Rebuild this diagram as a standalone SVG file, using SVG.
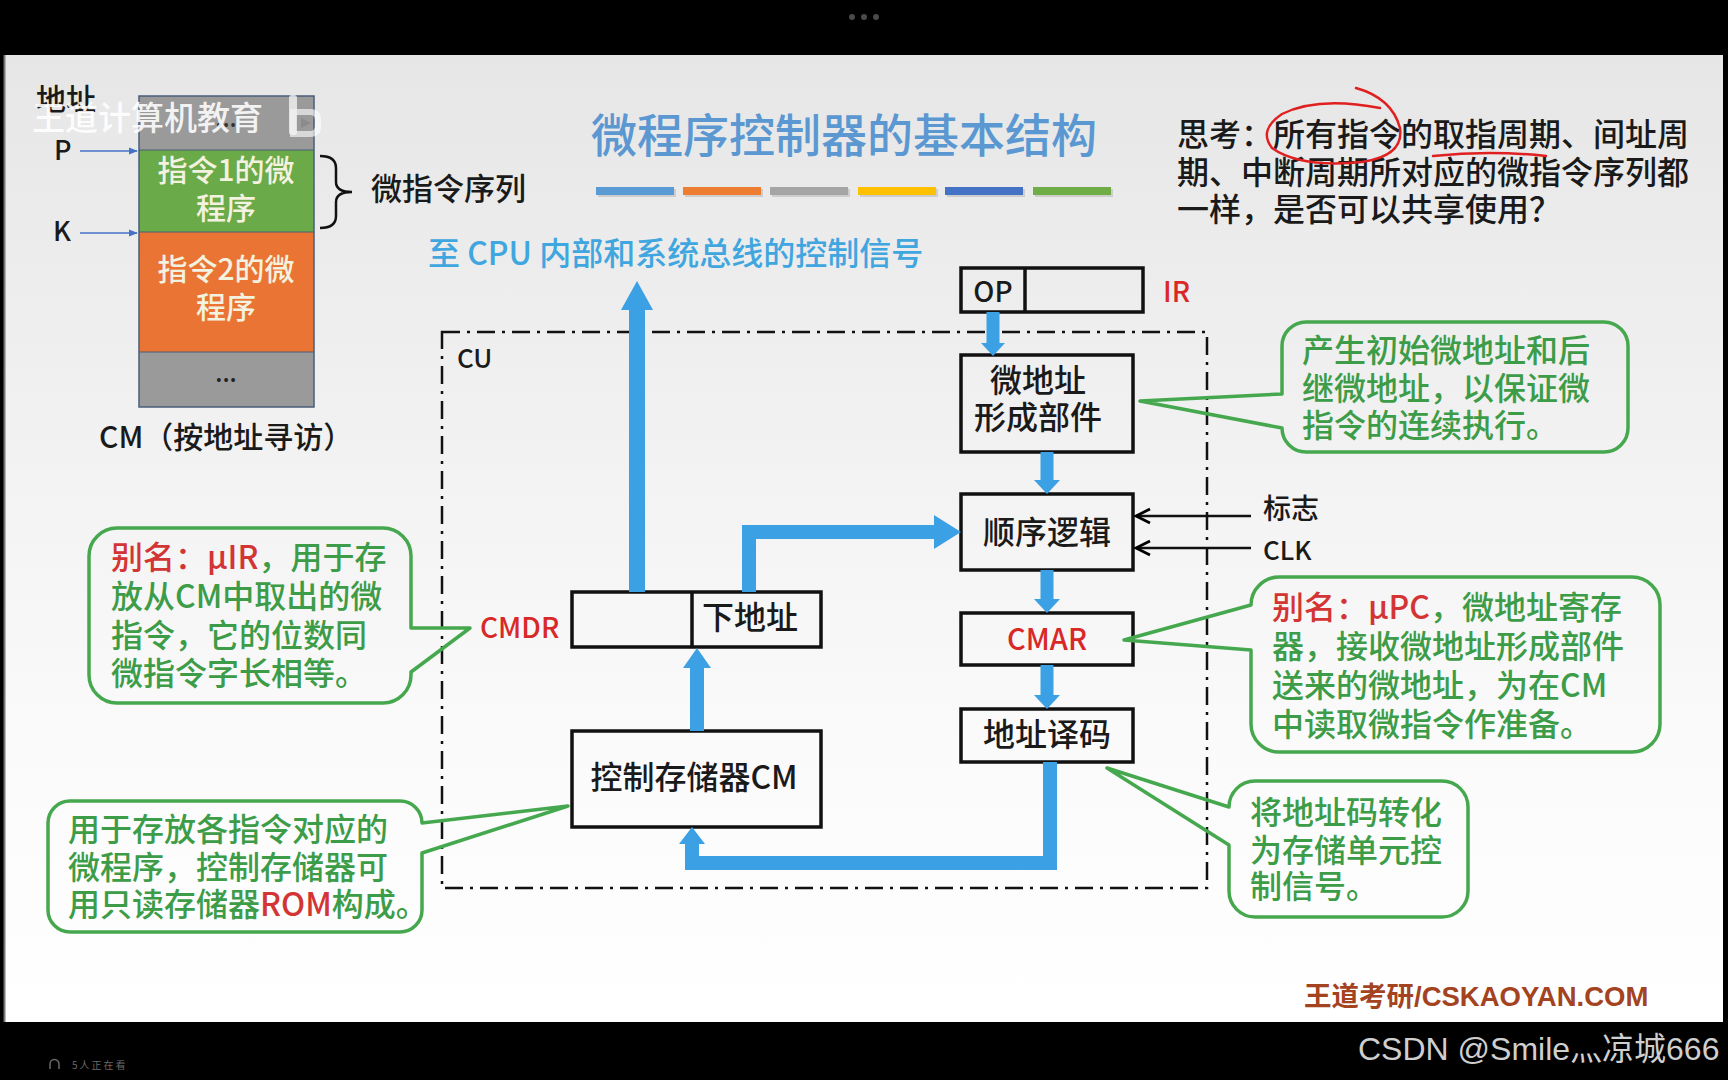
<svg xmlns="http://www.w3.org/2000/svg" width="1728" height="1080" viewBox="0 0 1728 1080">
<defs>
  <linearGradient id="bg" x1="0" y1="0" x2="0" y2="1">
    <stop offset="0" stop-color="#e6e6e6"/>
    <stop offset="0.45" stop-color="#f3f3f3"/>
    <stop offset="0.7" stop-color="#fafafa"/>
    <stop offset="1" stop-color="#ffffff"/>
  </linearGradient>
  <marker id="blk" viewBox="0 0 10 10" refX="9" refY="5" markerWidth="7" markerHeight="7" orient="auto">
    <path d="M1,1 L9,5 L1,9" fill="none" stroke="#000" stroke-width="1.6"/>
  </marker>
  <marker id="thinblue" viewBox="0 0 10 10" refX="9" refY="5" markerWidth="6" markerHeight="6" orient="auto">
    <path d="M0,1 L10,5 L0,9 Z" fill="#4472c4"/>
  </marker>
</defs>
<style>
  .cjk { font-family: "Noto Sans CJK SC", "Noto Sans", sans-serif; font-weight: 500; }
  .box { fill: none; stroke: #111; stroke-width: 3.5; }
  .lbl { font-size: 32px; fill: #1a1a1a; }
  .red { fill: #d92828; }
  .callout { fill: none; stroke: #45a84e; stroke-width: 3.5; stroke-linejoin: round; }
  .ctext { font-size: 32px; fill: #3d9c47; }
  .cred { fill: #d33434; }
  .blue { fill: #3ca0e4; }
  .bline { fill: none; stroke: #3ca0e4; stroke-width: 14; stroke-linejoin: miter; }
  .memtxt { font-size: 30px; fill: #f3f1df; }
</style>

<!-- frame -->
<rect x="0" y="0" width="1728" height="1080" fill="#000"/>
<rect x="4" y="55" width="1719" height="967" fill="url(#bg)"/>
<line x1="4.5" y1="55" x2="4.5" y2="1022" stroke="#777" stroke-width="2"/>
<g id="top-dots" fill="#4a4a4a">
  <circle cx="852" cy="17" r="3"/><circle cx="864" cy="17" r="3"/><circle cx="876" cy="17" r="3"/>
</g>

<!-- title -->
<g id="title">
  <text class="cjk" x="591" y="152" font-size="46" font-weight="400" fill="#5b98d2">微程序控制器的基本结构</text>
  <g id="color-bars">
    <rect x="598" y="189" width="78" height="8" fill="#000" opacity="0.12"/>
    <rect x="596" y="187" width="78" height="8" fill="#5b9bd5"/>
    <rect x="685" y="189" width="78" height="8" fill="#000" opacity="0.12"/>
    <rect x="683" y="187" width="78" height="8" fill="#ed7d31"/>
    <rect x="772" y="189" width="78" height="8" fill="#000" opacity="0.12"/>
    <rect x="770" y="187" width="78" height="8" fill="#a5a5a5"/>
    <rect x="860" y="189" width="78" height="8" fill="#000" opacity="0.12"/>
    <rect x="858" y="187" width="78" height="8" fill="#ffc000"/>
    <rect x="947" y="189" width="78" height="8" fill="#000" opacity="0.12"/>
    <rect x="945" y="187" width="78" height="8" fill="#4472c4"/>
    <rect x="1035" y="189" width="78" height="8" fill="#000" opacity="0.12"/>
    <rect x="1033" y="187" width="78" height="8" fill="#70ad47"/>
  </g>
</g>

<!-- question -->
<g id="question" class="cjk" font-size="32" fill="#1a1a1a">
  <text x="1177" y="146">思考：所有指令的取指周期、间址周</text>
  <text x="1177" y="184">期、中断周期所对应的微指令序列都</text>
  <text x="1177" y="221">一样，是否可以共享使用？</text>
  <path d="M1356,88 Q1392,98 1400,128 Q1404,156 1362,162 Q1300,168 1272,148 Q1258,130 1282,114 Q1318,96 1380,108" fill="none" stroke="#e02020" stroke-width="2.5" stroke-linecap="round"/>
  <path d="M1433,156 Q1490,150 1546,156" fill="none" stroke="#e02020" stroke-width="2.5" stroke-linecap="round"/>
</g>

<!-- CM memory diagram -->
<g id="cm-memory">
  <rect x="139" y="96" width="175" height="54" fill="#9a9a9a"/>
  <rect x="139" y="150" width="175" height="82" fill="#6aaa48"/>
  <rect x="139" y="232" width="175" height="120" fill="#ea7433"/>
  <rect x="139" y="352" width="175" height="55" fill="#9a9a9a"/>
  <rect x="139" y="96" width="175" height="311" fill="none" stroke="#4a5d78" stroke-width="1.5"/>
  <line x1="139" y1="150" x2="314" y2="150" stroke="#4a5d78" stroke-width="1.2"/>
  <line x1="139" y1="232" x2="314" y2="232" stroke="#4a5d78" stroke-width="1.2"/>
  <line x1="139" y1="352" x2="314" y2="352" stroke="#4a5d78" stroke-width="1.2"/>
  <text class="cjk" x="226" y="127" font-size="24" fill="#333" text-anchor="middle">...</text>
  <text class="cjk memtxt" x="226" y="181" text-anchor="middle">指令1的微</text>
  <text class="cjk memtxt" x="226" y="219" text-anchor="middle">程序</text>
  <text class="cjk memtxt" x="226" y="280" text-anchor="middle">指令2的微</text>
  <text class="cjk memtxt" x="226" y="318" text-anchor="middle">程序</text>
  <text class="cjk" x="226" y="382" font-size="24" fill="#222" text-anchor="middle">...</text>
  <text class="cjk" x="36" y="110" font-size="30" fill="#1a1a1a">地址</text>
  <text class="cjk" x="54" y="160" font-size="27" fill="#1a1a1a">P</text>
  <text class="cjk" x="53" y="241" font-size="27" fill="#1a1a1a">K</text>
  <line x1="80" y1="151" x2="137" y2="151" stroke="#4472c4" stroke-width="1.5" marker-end="url(#thinblue)"/>
  <line x1="80" y1="233" x2="137" y2="233" stroke="#4472c4" stroke-width="1.5" marker-end="url(#thinblue)"/>
  <path d="M320,156 Q336,156 336,168 V182 Q336,192 352,192 Q336,192 336,202 V216 Q336,228 320,228" fill="none" stroke="#111" stroke-width="2.5"/>
  <text class="cjk" x="371" y="200" font-size="31" fill="#1a1a1a">微指令序列</text>
  <text class="cjk" x="99" y="448" font-size="30" fill="#1a1a1a">CM（按地址寻访）</text>
</g>

<!-- watermark -->
<g id="watermark" opacity="0.88">
  <text class="cjk" x="32" y="130" font-size="33" fill="#ffffff">王道计算机教育</text>
  <rect x="289" y="95" width="8" height="40" rx="3" fill="#ffffff" opacity="0.8"/>
  <path d="M293,112 H310 Q318,112 318,120 V126 Q318,134 310,134 H293 Z" fill="none" stroke="#ffffff" stroke-width="6" opacity="0.7"/>
  <path d="M301,118 L311,123 L301,128 Z" fill="#8a8a8a"/>
</g>

<!-- signal label -->
<text id="signal-label" class="cjk" x="428" y="265" font-size="32" font-weight="400" fill="#3fa6df">至 CPU 内部和系统总线的控制信号</text>

<!-- CU boundary -->
<g id="cu">
  <rect x="442" y="332" width="765" height="556" fill="none" stroke="#111" stroke-width="2.5" stroke-dasharray="18 7 3 7"/>
  <text class="cjk" x="457" y="368" font-size="26" fill="#1a1a1a">CU</text>
</g>

<!-- nodes -->
<g id="ir">
  <rect class="box" x="961" y="268" width="182" height="44"/>
  <line x1="1025" y1="268" x2="1025" y2="312" stroke="#111" stroke-width="3.5"/>
  <text class="cjk" x="993" y="302" font-size="28" fill="#1a1a1a" text-anchor="middle">OP</text>
  <text class="cjk red" x="1163" y="302" font-size="28">IR</text>
</g>
<g id="micro-addr-gen">
  <rect class="box" x="961" y="355" width="172" height="97"/>
  <text class="cjk lbl" x="1038" y="392" text-anchor="middle">微地址</text>
  <text class="cjk lbl" x="1038" y="429" text-anchor="middle">形成部件</text>
</g>
<g id="seq-logic">
  <rect class="box" x="961" y="494" width="172" height="76"/>
  <text class="cjk lbl" x="1047" y="544" text-anchor="middle">顺序逻辑</text>
</g>
<g id="cmar">
  <rect class="box" x="961" y="613" width="172" height="52"/>
  <text class="cjk red" x="1047" y="650" font-size="29" text-anchor="middle">CMAR</text>
</g>
<g id="addr-decode">
  <rect class="box" x="961" y="709" width="172" height="53"/>
  <text class="cjk lbl" x="1047" y="746" text-anchor="middle">地址译码</text>
</g>
<g id="cmdr">
  <rect class="box" x="572" y="592" width="249" height="55"/>
  <line x1="692" y1="592" x2="692" y2="647" stroke="#111" stroke-width="3.5"/>
  <text class="cjk lbl" x="750" y="629" text-anchor="middle">下地址</text>
  <text class="cjk red" x="480" y="638" font-size="28">CMDR</text>
</g>
<g id="control-store">
  <rect class="box" x="572" y="731" width="249" height="96"/>
  <text class="cjk lbl" x="694" y="789" text-anchor="middle">控制存储器CM</text>
</g>
<g id="flag-clk" class="cjk" font-size="28" fill="#1a1a1a">
  <text x="1263" y="519">标志</text>
  <text x="1263" y="560" font-size="26">CLK</text>
</g>

<!-- connectors -->
<g id="connectors">
  <rect class="blue" x="629" y="308" width="16" height="284"/>
  <polygon class="blue" points="637,281 653,310 621,310"/>
  <rect class="blue" x="986.5" y="312" width="13" height="33"/>
  <polygon class="blue" points="993,356 1005,343 981,343"/>
  <rect class="blue" x="1040.5" y="452" width="13" height="29"/>
  <polygon class="blue" points="1047,494 1060,480 1034,480"/>
  <rect class="blue" x="1040.5" y="570" width="13" height="30"/>
  <polygon class="blue" points="1047,613 1060,599 1034,599"/>
  <rect class="blue" x="1040.5" y="665" width="13" height="31"/>
  <polygon class="blue" points="1047,709 1060,695 1034,695"/>
  <path class="bline" d="M1050,762 V863 H692 V842"/>
  <polygon class="blue" points="692,827 705,844 679,844"/>
  <rect class="blue" x="690" y="667" width="14" height="64"/>
  <polygon class="blue" points="697,648 711,668 683,668"/>
  <path class="bline" d="M749,592 V532 H935"/>
  <polygon class="blue" points="961,532 934,515 934,549"/>
  <line x1="1251" y1="516" x2="1136" y2="516" stroke="#111" stroke-width="2.5" marker-end="url(#blk)"/>
  <line x1="1251" y1="548" x2="1136" y2="548" stroke="#111" stroke-width="2.5" marker-end="url(#blk)"/>
</g>

<!-- callouts -->
<g id="callout-gen">
  <path class="callout" d="M1306,322 H1604 A24,24 0 0 1 1628,346 V428 A24,24 0 0 1 1604,452 H1306 A24,24 0 0 1 1282,428 L1140,401 L1282,394 V346 A24,24 0 0 1 1306,322 Z"/>
  <g class="cjk ctext">
    <text x="1302" y="362">产生初始微地址和后</text>
    <text x="1302" y="400">继微地址，以保证微</text>
    <text x="1302" y="437">指令的连续执行。</text>
  </g>
</g>
<g id="callout-cmdr">
  <path class="callout" d="M117,528 H383 A28,28 0 0 1 411,556 V628 L470,628 L411,672 V675 A28,28 0 0 1 383,703 H117 A28,28 0 0 1 89,675 V556 A28,28 0 0 1 117,528 Z"/>
  <g class="cjk ctext">
    <text x="111" y="569"><tspan class="cred">别名：μIR</tspan>，用于存</text>
    <text x="111" y="608">放从CM中取出的微</text>
    <text x="111" y="647">指令，它的位数同</text>
    <text x="111" y="685">微指令字长相等。</text>
  </g>
</g>
<g id="callout-cm">
  <path class="callout" d="M70,801 H400 A22,22 0 0 1 422,823 L568,806 L422,853 V910 A22,22 0 0 1 400,932 H70 A22,22 0 0 1 48,910 V823 A22,22 0 0 1 70,801 Z"/>
  <g class="cjk ctext">
    <text x="68" y="841">用于存放各指令对应的</text>
    <text x="68" y="879">微程序，控制存储器可</text>
    <text x="68" y="916">用只读存储器<tspan class="cred">ROM</tspan>构成。</text>
  </g>
</g>
<g id="callout-cmar">
  <path class="callout" d="M1279,577 H1632 A28,28 0 0 1 1660,605 V724 A28,28 0 0 1 1632,752 H1279 A28,28 0 0 1 1251,724 V650 L1124,640 L1251,605 A28,28 0 0 1 1279,577 Z"/>
  <g class="cjk ctext">
    <text x="1272" y="619"><tspan class="cred">别名：μPC</tspan>，微地址寄存</text>
    <text x="1272" y="658">器，接收微地址形成部件</text>
    <text x="1272" y="697">送来的微地址，为在CM</text>
    <text x="1272" y="736">中读取微指令作准备。</text>
  </g>
</g>
<g id="callout-decode">
  <path class="callout" d="M1255,781 H1442 A26,26 0 0 1 1468,807 V891 A26,26 0 0 1 1442,917 H1255 A26,26 0 0 1 1229,891 V845 L1107,768 L1229,807 A26,26 0 0 1 1255,781 Z"/>
  <g class="cjk ctext">
    <text x="1250" y="824">将地址码转化</text>
    <text x="1250" y="862">为存储单元控</text>
    <text x="1250" y="898">制信号。</text>
  </g>
</g>

<!-- footer -->
<text id="footer" x="1304" y="1006" font-family="'Liberation Sans', 'Noto Sans CJK SC', sans-serif" font-size="27.5" font-weight="bold" fill="#a3431f">王道考研/CSKAOYAN.COM</text>
<text id="csdn" x="1358" y="1060" font-family="'Liberation Sans', 'Noto Sans CJK SC', sans-serif" font-size="32" fill="#cfcfcf">CSDN @Smile灬凉城666</text>
<g id="viewers" fill="#6a6a6a">
  <path d="M50,1069 V1064 A4.5,4.5 0 0 1 59,1064 V1069" fill="none" stroke="#6a6a6a" stroke-width="1.5"/>
  <text x="72" y="1069" font-family="'Noto Sans CJK SC', sans-serif" font-size="10" letter-spacing="2">5人正在看</text>
</g>
</svg>
